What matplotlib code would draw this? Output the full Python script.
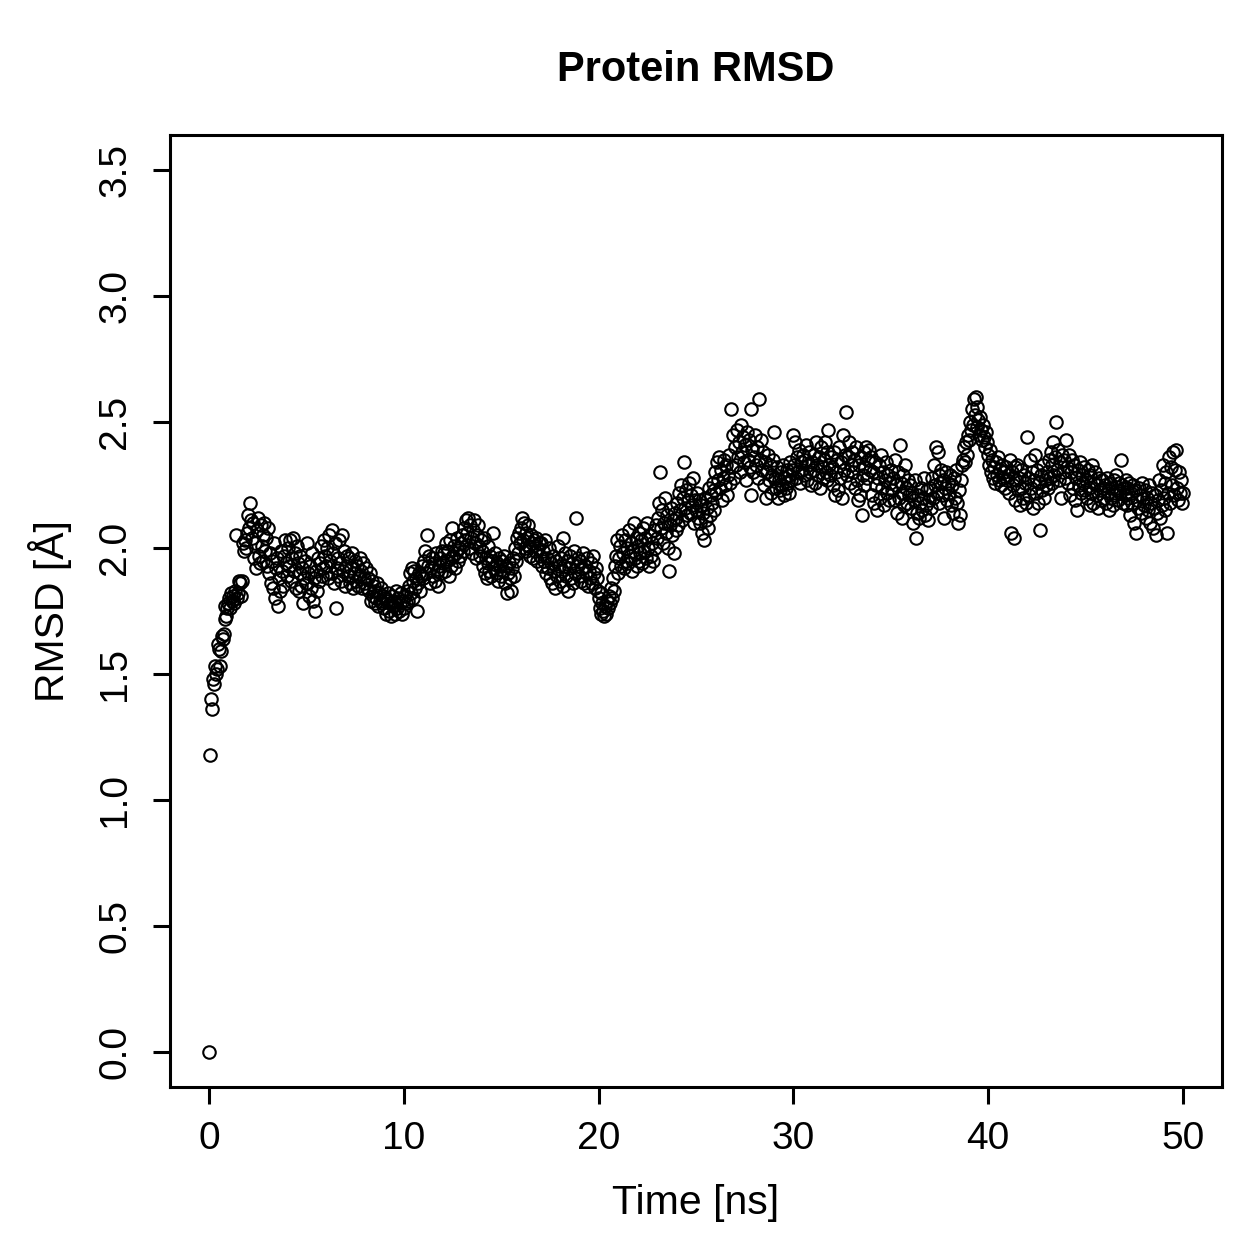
#!/usr/bin/env python3
"""Protein RMSD over a 50 ns trajectory, drawn in R base-graphics style."""

import matplotlib

matplotlib.use("Agg")
import matplotlib.pyplot as plt
import numpy as np

TITLE = "Protein RMSD"
XLABEL = "Time [ns]"
YLABEL = "RMSD [Å]"
XTICKS = [0, 10, 20, 30, 40, 50]
YTICKS = [0.0, 0.5, 1.0, 1.5, 2.0, 2.5, 3.0, 3.5]
TIME_STEP_NS = 0.05

# RMSD in Angstrom, one frame every 50 ps (20 frames per row = 1 ns)
RMSD = [
    0.00, 1.18, 1.40, 1.36, 1.48, 1.46, 1.53, 1.50, 1.52, 1.62, 1.60, 1.53, 1.59, 1.65, 1.64, 1.66, 1.72, 1.77, 1.73, 1.76,
    1.78, 1.80, 1.76, 1.82, 1.79, 1.81, 1.78, 1.83, 2.05, 1.80, 1.82, 1.87, 1.86, 1.81, 1.87, 2.02, 1.99, 2.03, 2.00, 2.06,
    2.13, 2.08, 2.18, 2.11, 2.04, 2.10, 1.96, 2.02, 1.92, 2.07, 2.12, 1.97, 1.94, 2.09, 2.01, 1.95, 2.05, 2.10, 1.99, 2.04,
    1.93, 2.08, 1.90, 1.98, 1.86, 1.95, 1.84, 2.02, 1.80, 1.92, 1.96, 1.77, 1.88, 1.83, 1.99, 1.91, 1.85, 1.97, 2.03, 1.94,
    1.89, 2.00, 1.93, 2.03, 1.87, 1.96, 2.04, 1.91, 1.98, 1.84, 2.01, 1.94, 1.83, 1.90, 1.97, 1.85, 1.92, 1.78, 1.88, 1.95,
    1.86, 2.02, 1.90, 1.81, 1.93, 1.84, 1.98, 1.79, 1.88, 1.75, 1.91, 1.83, 1.96, 1.87, 1.94, 2.01, 1.89, 1.92, 2.03, 1.97,
    1.93, 2.00, 1.88, 2.05, 1.95, 1.90, 2.07, 1.98, 1.86, 2.02, 1.76, 1.92, 1.96, 1.89, 2.03, 1.94, 1.87, 2.05, 1.91, 1.99,
    1.85, 1.93, 1.97, 1.89, 1.96, 1.86, 1.92, 1.98, 1.84, 1.90, 1.95, 1.87, 1.93, 1.85, 1.89, 1.96, 1.91, 1.84, 1.94, 1.88,
    1.86, 1.92, 1.84, 1.88, 1.83, 1.90, 1.79, 1.87, 1.81, 1.85, 1.78, 1.83, 1.80, 1.86, 1.77, 1.82, 1.79, 1.84, 1.78, 1.81,
    1.76, 1.80, 1.74, 1.79, 1.82, 1.75, 1.78, 1.73, 1.81, 1.77, 1.79, 1.74, 1.83, 1.76, 1.80, 1.75, 1.78, 1.82, 1.74, 1.79,
    1.76, 1.81, 1.78, 1.83, 1.79, 1.85, 1.90, 1.82, 1.92, 1.87, 1.80, 1.91, 1.84, 1.88, 1.75, 1.86, 1.90, 1.83, 1.89, 1.93,
    1.88, 1.95, 1.99, 1.90, 2.05, 1.93, 1.97, 1.86, 1.92, 1.96, 1.89, 1.94, 1.87, 1.98, 1.91, 1.85, 1.93, 1.96, 1.90, 1.99,
    1.94, 1.98, 1.91, 2.02, 1.95, 1.99, 1.89, 2.03, 1.96, 1.93, 2.08, 1.97, 2.01, 1.92, 1.98, 2.04, 1.95, 2.00, 1.97, 2.02,
    2.05, 1.99, 2.08, 2.03, 2.11, 2.06, 2.12, 2.00, 2.09, 2.04, 1.98, 2.07, 2.11, 2.02, 1.96, 2.05, 2.09, 2.01, 1.97, 2.03,
    1.99, 1.93, 2.04, 1.90, 1.96, 1.88, 2.01, 1.94, 1.91, 1.97, 1.89, 1.95, 2.06, 1.92, 1.98, 1.90, 1.94, 1.87, 1.96, 1.93,
    1.89, 1.95, 1.91, 1.97, 1.86, 1.93, 1.82, 1.90, 1.94, 1.88, 1.83, 1.92, 1.96, 1.89, 2.00, 1.95, 2.04, 1.98, 2.06, 2.02,
    2.08, 2.12, 2.03, 2.10, 2.00, 2.06, 1.99, 2.04, 2.09, 2.01, 1.97, 2.05, 2.02, 1.96, 2.03, 1.99, 2.04, 1.95, 2.00, 2.02,
    1.97, 2.02, 1.93, 1.99, 1.95, 2.03, 1.90, 1.96, 1.92, 2.00, 1.88, 1.94, 1.86, 1.97, 1.91, 1.84, 1.95, 1.89, 2.01, 1.93,
    1.87, 1.96, 1.91, 2.04, 1.85, 1.93, 1.98, 1.89, 1.95, 1.83, 1.92, 1.97, 1.88, 1.94, 1.86, 1.99, 1.90, 2.12, 1.93, 1.96,
    1.89, 1.95, 1.87, 1.92, 1.98, 1.86, 1.93, 1.90, 1.96, 1.85, 1.91, 1.88, 1.94, 1.86, 1.97, 1.90, 1.84, 1.92, 1.88, 1.83,
    1.80, 1.76, 1.82, 1.74, 1.78, 1.75, 1.73, 1.77, 1.74, 1.79, 1.76, 1.81, 1.78, 1.84, 1.80, 1.88, 1.83, 1.93, 1.97, 2.03,
    1.90, 1.96, 2.01, 1.93, 2.05, 1.98, 1.92, 2.03, 1.95, 2.00, 1.94, 2.07, 1.97, 2.02, 1.91, 1.99, 2.10, 1.96, 2.04, 1.93,
    2.01, 1.95, 2.06, 1.98, 2.03, 1.94, 2.08, 1.99, 2.04, 1.96, 2.10, 2.00, 1.93, 2.05, 1.97, 2.02, 1.95, 2.07, 2.00, 2.09,
    2.04, 2.12, 2.18, 2.30, 2.08, 2.15, 2.02, 2.10, 2.20, 2.06, 2.13, 2.00, 1.91, 2.09, 2.16, 2.05, 2.11, 1.98, 2.14, 2.07,
    2.12, 2.18, 2.09, 2.22, 2.15, 2.25, 2.11, 2.20, 2.34, 2.16, 2.23, 2.13, 2.19, 2.26, 2.14, 2.21, 2.17, 2.28, 2.10, 2.19,
    2.15, 2.22, 2.12, 2.19, 2.10, 2.17, 2.06, 2.14, 2.03, 2.20, 2.11, 2.16, 2.08, 2.24, 2.13, 2.21, 2.18, 2.26, 2.15, 2.23,
    2.30, 2.22, 2.34, 2.27, 2.36, 2.24, 2.31, 2.19, 2.28, 2.35, 2.25, 2.33, 2.21, 2.29, 2.37, 2.26, 2.55, 2.32, 2.45, 2.28,
    2.40, 2.33, 2.47, 2.36, 2.42, 2.30, 2.49, 2.38, 2.44, 2.34, 2.41, 2.27, 2.46, 2.35, 2.43, 2.32, 2.21, 2.55, 2.39, 2.30,
    2.36, 2.45, 2.33, 2.40, 2.28, 2.59, 2.35, 2.43, 2.31, 2.38, 2.25, 2.34, 2.20, 2.30, 2.37, 2.27, 2.33, 2.22, 2.29, 2.35,
    2.46, 2.28, 2.24, 2.32, 2.20, 2.27, 2.23, 2.30, 2.25, 2.33, 2.21, 2.28, 2.24, 2.31, 2.26, 2.29, 2.22, 2.34, 2.27, 2.31,
    2.45, 2.33, 2.42, 2.28, 2.36, 2.30, 2.39, 2.26, 2.34, 2.31, 2.37, 2.29, 2.35, 2.41, 2.27, 2.33, 2.38, 2.30, 2.25, 2.34,
    2.31, 2.37, 2.26, 2.42, 2.33, 2.29, 2.36, 2.24, 2.40, 2.32, 2.28, 2.35, 2.42, 2.30, 2.38, 2.27, 2.47, 2.33, 2.29, 2.36,
    2.32, 2.25, 2.38, 2.21, 2.30, 2.35, 2.23, 2.40, 2.28, 2.34, 2.20, 2.45, 2.31, 2.37, 2.54, 2.29, 2.36, 2.42, 2.26, 2.33,
    2.38, 2.30, 2.35, 2.24, 2.40, 2.27, 2.19, 2.33, 2.21, 2.36, 2.13, 2.29, 2.38, 2.25, 2.32, 2.40, 2.28, 2.35, 2.39, 2.31,
    2.36, 2.21, 2.30, 2.18, 2.34, 2.25, 2.15, 2.28, 2.33, 2.20, 2.37, 2.24, 2.30, 2.17, 2.27, 2.34, 2.22, 2.29, 2.19, 2.26,
    2.31, 2.23, 2.28, 2.19, 2.35, 2.25, 2.14, 2.30, 2.20, 2.41, 2.26, 2.12, 2.22, 2.29, 2.17, 2.33, 2.24, 2.18, 2.27, 2.21,
    2.25, 2.16, 2.22, 2.10, 2.19, 2.27, 2.04, 2.14, 2.21, 2.12, 2.18, 2.24, 2.15, 2.20, 2.28, 2.13, 2.17, 2.23, 2.11, 2.19,
    2.24, 2.16, 2.28, 2.20, 2.33, 2.25, 2.40, 2.22, 2.38, 2.29, 2.18, 2.26, 2.31, 2.21, 2.27, 2.12, 2.24, 2.30, 2.19, 2.26,
    2.22, 2.29, 2.17, 2.25, 2.14, 2.28, 2.20, 2.31, 2.18, 2.10, 2.23, 2.13, 2.27, 2.33, 2.35, 2.40, 2.34, 2.42, 2.37, 2.45,
    2.43, 2.50, 2.47, 2.55, 2.49, 2.59, 2.53, 2.60, 2.48, 2.56, 2.51, 2.45, 2.52, 2.47, 2.43, 2.49, 2.44, 2.40, 2.46, 2.42,
    2.37, 2.33, 2.39, 2.30, 2.35, 2.28, 2.32, 2.26, 2.34, 2.29, 2.36, 2.27, 2.31, 2.25, 2.33, 2.28, 2.30, 2.24, 2.32, 2.27,
    2.29, 2.22, 2.35, 2.06, 2.30, 2.25, 2.04, 2.32, 2.19, 2.27, 2.33, 2.23, 2.28, 2.17, 2.31, 2.24, 2.20, 2.29, 2.26, 2.18,
    2.44, 2.28, 2.21, 2.35, 2.24, 2.30, 2.16, 2.27, 2.37, 2.22, 2.31, 2.18, 2.26, 2.07, 2.29, 2.23, 2.33, 2.20, 2.27, 2.25,
    2.30, 2.24, 2.35, 2.28, 2.38, 2.26, 2.33, 2.42, 2.29, 2.36, 2.50, 2.31, 2.39, 2.27, 2.34, 2.20, 2.37, 2.30, 2.35, 2.28,
    2.43, 2.32, 2.26, 2.37, 2.21, 2.30, 2.35, 2.24, 2.33, 2.19, 2.28, 2.15, 2.31, 2.25, 2.34, 2.22, 2.29, 2.26, 2.32, 2.23,
    2.27, 2.20, 2.31, 2.24, 2.17, 2.29, 2.22, 2.33, 2.18, 2.26, 2.30, 2.21, 2.25, 2.16, 2.28, 2.23, 2.19, 2.27, 2.24, 2.20,
    2.25, 2.18, 2.28, 2.22, 2.15, 2.26, 2.20, 2.24, 2.17, 2.27, 2.21, 2.29, 2.23, 2.19, 2.26, 2.22, 2.35, 2.25, 2.18, 2.24,
    2.21, 2.27, 2.17, 2.24, 2.20, 2.26, 2.13, 2.22, 2.18, 2.25, 2.10, 2.23, 2.06, 2.19, 2.16, 2.24, 2.21, 2.14, 2.26, 2.20,
    2.17, 2.23, 2.12, 2.20, 2.15, 2.25, 2.10, 2.18, 2.22, 2.08, 2.16, 2.21, 2.05, 2.14, 2.19, 2.27, 2.12, 2.23, 2.17, 2.33,
    2.20, 2.26, 2.15, 2.30, 2.06, 2.22, 2.36, 2.18, 2.32, 2.25, 2.38, 2.21, 2.31, 2.39, 2.24, 2.19, 2.30, 2.22, 2.27, 2.18,
    2.22,
]


def main() -> None:
    plt.rcParams.update({"font.family": ["Liberation Sans", "DejaVu Sans"]})
    fig = plt.figure(figsize=(12.59, 12.59), dpi=100)
    ax = fig.add_axes([0.135, 0.1366, 0.8356, 0.7562])

    time = np.arange(len(RMSD)) * TIME_STEP_NS
    ax.plot(time, RMSD, linestyle="none", marker="o", markersize=9.0,
            markerfacecolor="none", markeredgecolor="black", markeredgewidth=1.5)

    ax.set_xlim(-2, 52)
    ax.set_ylim(-0.14, 3.64)
    ax.set_xticks(XTICKS)
    ax.set_yticks(YTICKS)
    ax.set_yticklabels([f"{v:.1f}" for v in YTICKS], rotation=90, va="center")
    ax.tick_params(axis="both", direction="out", length=12.5, width=2.2,
                   labelsize=28, color="black")
    ax.tick_params(axis="x", pad=12)
    ax.tick_params(axis="y", pad=14)
    for spine in ax.spines.values():
        spine.set_linewidth(2.2)

    fig.text(0.5527, 1 - 1203 / 1259, XLABEL, ha="center", va="center", fontsize=29.5)
    fig.text(0.040, 1 - 611 / 1259, YLABEL, ha="center", va="center",
             rotation=90, fontsize=29.5)
    fig.text(0.5527, 1 - 70 / 1259, TITLE, ha="center", va="center",
             fontsize=30, fontweight="bold")

    fig.savefig("out.png", dpi=100)


if __name__ == "__main__":
    main()
